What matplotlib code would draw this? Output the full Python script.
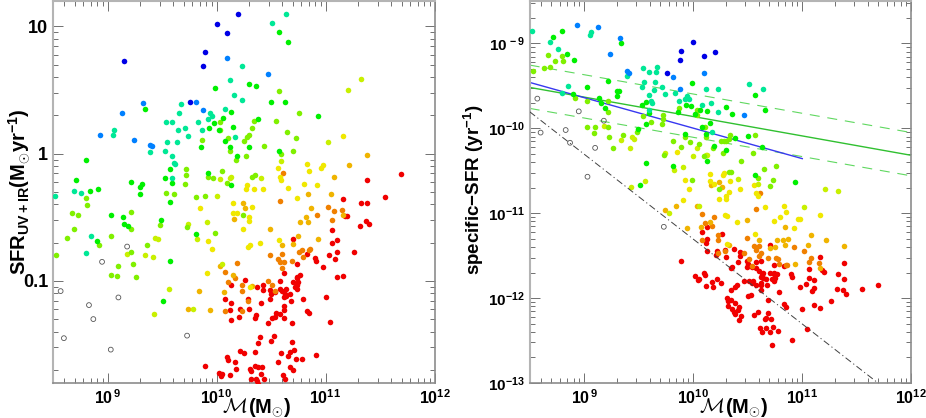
#!/usr/bin/env python3
import matplotlib
matplotlib.use("Agg")
import matplotlib.pyplot as plt
import matplotlib.ticker as mticker
import numpy as np

plt.rcParams["font.family"] = ["Liberation Sans", "DejaVu Sans"]
plt.rcParams["font.weight"] = "bold"
plt.rcParams["mathtext.fontset"] = "custom"
plt.rcParams["mathtext.rm"] = "Liberation Sans:bold"
plt.rcParams["mathtext.bf"] = "Liberation Sans:bold"
plt.rcParams["mathtext.it"] = "Liberation Sans:bold"

# log10 stellar mass and log10 SFR, one pair of lists per colour class
navy_m = [10.00, 9.89, 9.88, 9.15, 9.76, 10.20, 10.10]
navy_s = [1.02, 0.80, 0.69, 0.73, 0.41, 1.10, 0.95]

blue_m = [10.10, 10.47, 9.33, 9.81, 9.13, 9.88, 8.93, 9.24, 9.39, 9.41]
blue_s = [0.75, 0.63, 0.40, 0.41, 0.32, 0.34, 0.15, 0.11, 0.07, 0.06]

teal_m = [10.64, 10.51, 10.23, 10.12, 10.16, 10.23, 10.08, 10.17, 9.67, 9.66,
          9.94, 9.96, 9.54, 9.59, 9.83, 9.92, 9.06, 9.05, 9.65, 9.71,
          9.87, 9.74, 9.55, 9.64, 9.39, 9.53, 9.59, 9.61, 9.62, 8.69,
          8.76, 8.52, 9.59, 8.85, 8.80]
teal_s = [1.10, 1.03, 0.69, 0.58, 0.46, 0.42, 0.35, 0.13, 0.39, 0.32,
          0.32, 0.30, 0.25, 0.25, 0.25, 0.27, 0.19, 0.15, 0.19, 0.20,
          0.19, 0.14, 0.09, 0.09, 0.01, 0.02, -0.02, -0.07, -0.08, -0.29,
          -0.31, -0.33, -0.19, -0.65, -0.78]

green_m = [10.57, 10.66, 10.30, 10.36, 10.50, 10.63, 10.13, 10.93, 10.06, 10.38,
           10.15, 10.08, 10.12, 10.30, 10.57, 10.19, 10.13, 9.99, 9.34, 9.98,
           9.93, 10.02, 9.86, 8.80, 8.71, 8.84, 8.91, 9.22, 9.32, 9.30,
           9.30, 9.57, 9.53, 9.59, 9.92, 9.57, 9.03, 9.14, 9.15, 9.19,
           8.90, 9.49, 9.81, 9.57, 9.51]
green_s = [0.96, 0.88, 0.55, 0.53, 0.41, 0.41, 0.33, 0.30, 0.28, 0.27,
           0.21, 0.10, 0.05, 0.05, 0.02, -0.02, -0.25, 0.52, 0.35, 0.24,
           0.20, 0.19, 0.05, -0.05, -0.21, -0.29, -0.28, -0.22, -0.24, -0.26,
           -0.32, -0.12, -0.19, -0.23, -0.15, -0.38, -0.48, -0.50, -0.55, -0.57,
           -0.69, -0.52, -0.63, -0.84, -1.16]

lime_m = [10.57, 10.76, 10.34, 10.55, 10.33, 10.03, 10.65, 10.30, 10.28, 10.11,
          10.73, 10.25, 10.44, 10.12, 10.70, 10.59, 10.27, 10.18, 10.05, 10.33,
          10.35, 10.03, 9.87, 9.72, 9.72, 9.71, 8.80, 8.81, 9.54, 9.61,
          9.81, 9.89, 9.92, 9.97, 10.10, 8.67, 8.73, 8.69, 8.63, 8.53,
          9.22, 9.22, 9.03, 8.92, 9.22, 9.36, 9.03, 9.09, 9.10, 9.23,
          9.26, 9.48, 9.73, 9.99, 10.24]
lime_s = [0.49, 0.32, 0.26, 0.26, 0.20, 0.19, 0.17, 0.15, 0.13, 0.12,
          0.12, 0.10, 0.06, 0.02, 0.02, 0.00, -0.02, -0.05, -0.14, -0.18,
          -0.17, 0.25, 0.11, -0.12, -0.17, -0.24, -0.35, -0.40, -0.31, -0.32,
          -0.34, -0.33, -0.18, -0.19, -0.23, -0.47, -0.48, -0.59, -0.66, -0.80,
          -0.46, -0.59, -0.65, -0.72, -0.77, -0.72, -0.95, -0.96, -0.88, -0.87,
          -0.97, -0.56, -0.58, -0.62, -0.48]

chartreuse_m = [11.33, 11.21, 11.02, 10.12, 10.13, 10.03, 10.59, 10.41, 10.00, 9.74,
                9.44, 9.46, 9.82, 9.91, 9.18, 9.34, 9.42, 9.56, 9.43, 9.78, 10.05]
chartreuse_s = [0.59, 0.50, 0.09, -0.19, -0.18, -0.20, -0.06, -0.19, -0.33, -0.55,
                -0.66, -0.67, -0.67, -0.54, -0.79, -0.80, -0.81, -1.06, -1.26, -1.22, -0.87]

yellow_m = [11.16, 10.83, 10.56, 10.96, 10.98, 10.85, 10.58, 10.59, 10.80, 10.92,
            10.28, 10.27, 10.34, 10.43, 10.66, 10.74, 10.15, 10.33, 9.85, 9.92,
            9.96, 9.91, 10.15, 10.19, 10.30, 10.30, 10.24, 10.40, 10.29, 10.31,
            10.57, 10.31]
yellow_s = [0.14, -0.08, -0.11, -0.11, -0.09, -0.14, -0.18, -0.21, -0.24, -0.25,
            -0.25, -0.28, -0.28, -0.28, -0.27, -0.35, -0.39, -0.42, -0.43, -0.69,
            -0.75, -0.94, -0.47, -0.47, -0.50, -0.53, -0.59, -0.70, -0.73, -0.72,
            -0.68, -1.05]

amber_m = [11.38, 11.22, 11.08, 10.84, 11.05, 10.87, 10.24, 10.26, 10.16, 10.82,
           10.84, 10.77, 11.16, 10.75, 10.93, 10.70, 10.60, 10.33, 10.07, 10.15,
           10.49, 10.03, 9.84, 9.74, 9.94]
amber_s = [-0.01, -0.09, -0.18, -0.32, -0.32, -0.43, -0.39, -0.43, -0.51, -0.50,
           -0.54, -0.54, -0.48, -0.65, -0.67, -0.71, -0.72, -1.04, -1.09, -0.95,
           -0.59, -0.88, -1.08, -1.22, -1.23]

orange_m = [10.61, 10.58, 11.02, 11.15, 11.08, 10.92, 11.06, 10.49, 10.56, 10.58,
            10.62, 10.69, 10.60, 10.76, 10.78, 10.85, 10.86, 10.79, 10.19, 10.60,
            10.08, 10.11, 10.17, 10.23, 10.23, 10.47, 10.51, 10.54, 10.08, 10.23, 10.29]
orange_s = [-0.15, -0.37, -0.42, -0.44, -0.45, -0.48, -0.52, -0.80, -0.83, -0.85,
            -0.85, -0.84, -0.79, -0.77, -0.76, -0.76, -0.75, -0.81, -0.86, -0.90,
            -0.93, -1.01, -0.98, -1.03, -1.08, -1.00, -1.03, -1.08, -1.24, -1.24, -1.16]

red_m = [11.69, 11.38, 11.55, 11.16, 11.33, 11.38, 9.89, 10.02, 11.18, 11.20,
         11.37, 11.40, 11.32, 11.06, 11.11, 11.06, 11.26, 11.11, 11.03, 11.09,
         10.90, 10.91, 10.98, 11.11, 11.16, 10.83, 10.70, 10.74, 10.62, 10.77,
         10.74, 10.74, 10.70, 10.58, 10.75, 10.74, 10.72, 10.74, 10.26, 10.13,
         10.37, 10.43, 10.43, 10.49, 10.54, 10.58, 10.64, 10.60, 10.63, 10.67,
         10.64, 10.62, 10.50, 10.49, 10.79, 11.00, 10.29, 10.08, 10.13, 10.68,
         10.41, 10.62, 10.62, 10.22, 10.30, 10.12, 10.83, 10.85, 10.55, 10.58,
         10.54, 10.51, 10.62, 10.36, 10.35, 10.21, 10.13, 10.47, 10.69, 11.04,
         10.40, 10.53, 10.50, 10.69, 10.38, 10.71, 10.22, 10.25, 10.35, 10.59,
         10.67, 10.66, 10.91, 10.10, 10.11, 10.73, 10.78, 10.17, 10.56, 10.18,
         10.35, 10.38, 10.42, 10.31, 10.32, 10.67, 10.70, 10.41, 10.61, 10.63,
         10.12, 10.05, 10.04, 10.32, 10.36, 10.44, 10.37, 10.72, 10.42, 10.38]
red_s = [-0.16, -0.21, -0.34, -0.36, -0.39, -0.39, -1.67, -1.72, -0.49, -0.49,
         -0.53, -0.55, -0.57, -0.60, -0.68, -0.70, -0.77, -0.77, -0.80, -0.83,
         -0.82, -0.84, -0.89, -0.97, -0.96, -0.79, -0.67, -0.87, -0.94, -0.95,
         -0.97, -0.98, -1.01, -1.00, -1.01, -1.03, -1.05, -1.06, -0.99, -1.03,
         -1.05, -1.03, -1.07, -1.07, -1.09, -1.06, -1.06, -1.08, -1.10, -1.10,
         -1.12, -1.13, -1.10, -1.14, -1.14, -1.13, -1.14, -1.14, -1.17, -1.16,
         -1.17, -1.20, -1.23, -1.22, -1.22, -1.23, -1.24, -1.25, -1.25, -1.26,
         -1.28, -1.29, -1.29, -1.27, -1.29, -1.28, -1.31, -1.33, -1.33, -1.32,
         -1.44, -1.43, -1.47, -1.48, -1.49, -1.54, -1.55, -1.57, -1.56, -1.57,
         -1.56, -1.59, -1.58, -1.60, -1.62, -1.61, -1.61, -1.64, -1.64, -1.69,
         -1.67, -1.68, -1.68, -1.69, -1.71, -1.68, -1.70, -1.73, -1.74, -1.77,
         -1.74, -1.73, -1.75, -1.77, -1.77, -1.77, -1.79, -1.83, -1.84, -1.81]

open_m = [9.18, 8.95, 8.57, 9.10, 8.83, 8.87, 8.60, 9.73, 9.03]
open_s = [-0.73, -0.85, -1.08, -1.13, -1.19, -1.30, -1.45, -1.43, -1.54]

groups = [
    (red_m, red_s, "#f00000"),
    (orange_m, orange_s, "#f08000"),
    (amber_m, amber_s, "#f0b400"),
    (yellow_m, yellow_s, "#f0e800"),
    (chartreuse_m, chartreuse_s, "#c8f000"),
    (lime_m, lime_s, "#80f000"),
    (green_m, green_s, "#00f000"),
    (teal_m, teal_s, "#00e896"),
    (blue_m, blue_s, "#0080ff"),
    (navy_m, navy_s, "#0000e6"),
]

# fit lines on the right panel, log10 mass vs log10 sSFR
line_m = [8.5, 12.0]
green_fit = [-9.518, -10.318]
green_up = [-9.255, -10.05]
green_lo = [-9.765, -10.56]
blue_fit_m = [8.5, 11.0]
blue_fit = [-9.459, -10.357]
limit_fit = [-9.805, -13.305]


def style_axis(ax):
    ax.set_xscale("log")
    ax.set_yscale("log")
    ax.set_xlim(10**8.5, 1e12)
    ax.xaxis.set_major_locator(mticker.LogLocator(base=10, numticks=8))
    ax.yaxis.set_major_locator(mticker.LogLocator(base=10, numticks=12))
    for axis in (ax.xaxis, ax.yaxis):
        axis.set_minor_locator(mticker.LogLocator(base=10, subs=np.arange(2, 10), numticks=12))
        axis.set_minor_formatter(mticker.NullFormatter())
    ax.tick_params(which="major", direction="in", length=7.2, width=0.7, color="#707070",
                   top=True, right=True)
    ax.tick_params(which="minor", direction="in", length=3.6, width=0.7, color="#707070",
                   top=True, right=True)
    for side in ("top", "left"):
        ax.spines[side].set_color("#b4b4b4")
        ax.spines[side].set_linewidth(1.5)
    for side in ("bottom", "right"):
        ax.spines[side].set_color("#8c8c8c")
        ax.spines[side].set_linewidth(1.2)
    ax.set_xticks([1e9, 1e10, 1e11, 1e12])
    ax.set_xticklabels([r"$\mathbf{10^{\,9}}$", r"$\mathbf{10^{10}}$",
                        r"$\mathbf{10^{11}}$", r"$\mathbf{10^{12}}$"], fontsize=11.5)
    ax.tick_params(axis="x", which="major", pad=4)


fig = plt.figure(figsize=(9.26, 4.18), dpi=100)
ax1 = fig.add_axes([53 / 926, 1 - 382.7 / 418, 381.5 / 926, 381.7 / 418])
ax2 = fig.add_axes([529.7 / 926, 1 - 383 / 418, 381.6 / 926, 382 / 418])

for m, s, col in groups:
    m = np.array(m)
    s = np.array(s)
    ax1.scatter(10**m, 10**s, s=16, c=col, linewidths=0, zorder=3)
    ax2.scatter(10**m, 10**(s - m), s=16, c=col, linewidths=0, zorder=3)

omass = np.array(open_m)
osfr = np.array(open_s)
ax1.scatter(10**omass, 10**osfr, s=12, facecolors="none", edgecolors="#555555", linewidths=0.6, zorder=3)
ax2.scatter(10**omass, 10**(osfr - omass), s=12, facecolors="none", edgecolors="#555555", linewidths=0.6, zorder=3)

lm = 10**np.array(line_m)
ax2.plot(lm, 10**np.array(green_fit), color="#30c030", lw=1.0, zorder=2)
ax2.plot(lm, 10**np.array(green_up), color="#60d860", lw=0.8, dashes=(9, 7), zorder=2)
ax2.plot(lm, 10**np.array(green_lo), color="#60d860", lw=0.8, dashes=(9, 7), zorder=2)
ax2.plot(10**np.array(blue_fit_m), 10**np.array(blue_fit), color="#3838f0", lw=1.0, zorder=2)
ax2.plot(lm, 10**np.array(limit_fit), color="#404040", lw=0.7, dashes=(7, 3, 1.2, 3), zorder=4)

style_axis(ax1)
ax1.set_ylim(10**-1.8, 10**1.2)
ax1.set_yticks([0.1, 1, 10])
ax1.set_yticklabels(["0.1", "1", "10"], fontsize=13)

style_axis(ax2)
ax2.set_ylim(1e-13, 10**-8.5)
ax2.set_yticks([1e-13, 1e-12, 1e-11, 1e-10, 1e-9])
ax2.set_yticklabels([r"$\mathbf{10^{-13}}$", r"$\mathbf{10^{-12}}$", r"$\mathbf{10^{-11}}$",
                     r"$\mathbf{10^{-10}}$", r"$\mathbf{10^{\,-9}}$"], fontsize=11)

for x_cal, x_par in ((222, 248), (699, 725)):
    fig.text(x_cal / 926, 5 / 418, r"$\mathcal{M}$", fontsize=15, math_fontfamily="cm", ha="left", va="baseline")
    fig.text(x_par / 926, 5 / 418, r"(M$_{\odot}$)", fontsize=14.5, ha="left", va="baseline")

fig.text(19 / 926, 1 - 192 / 418, r"SFR$_{\mathrm{UV+IR}}$(M$_{\odot}$yr$^{-1}$)", fontsize=14.5,
         rotation=90, ha="center", va="center")
fig.text(474 / 926, 1 - 190 / 418, r"specific$-$SFR (yr$^{-1}$)", fontsize=13.5,
         rotation=90, ha="center", va="center")

fig.savefig("out.png", dpi=100)
print("Saved out.png")
